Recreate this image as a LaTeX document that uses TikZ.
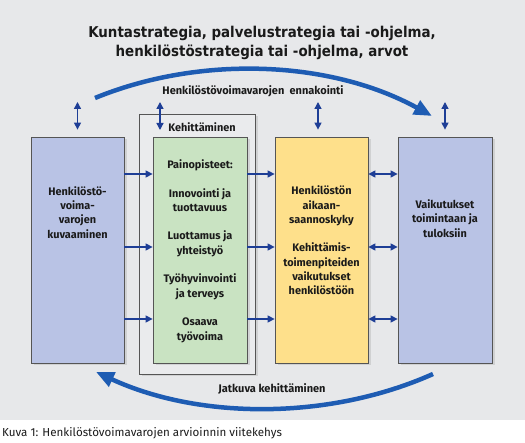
\documentclass[tikz,border=0pt]{standalone}
\usepackage{fontspec}
\setmainfont{Fira Sans}
\newfontfamily\titlefont[FakeStretch=0.9]{DejaVu Sans}
\usetikzlibrary{arrows.meta,shadows,calc}
\definecolor{bg}{HTML}{E7E8EA}
\definecolor{framebg}{HTML}{EAEBED}
\definecolor{blueb}{HTML}{B9C3E5}
\definecolor{greenb}{HTML}{C9E3C2}
\definecolor{yellowb}{HTML}{FEE08B}
\definecolor{navy}{HTML}{1E3E96}
\definecolor{arcblue}{HTML}{1E5CB3}
\definecolor{bordergrey}{HTML}{555555}
\definecolor{txt}{HTML}{1A1A1A}
\tikzset{
  box/.style={draw=bordergrey, line width=0.8pt, inner sep=0pt,
    drop shadow={opacity=0.22, shadow xshift=2.5pt, shadow yshift=-2.5pt}},
  boxtext/.style={align=center, text=txt, inner sep=0pt,
    font=\fontsize{10.9}{14.3}\selectfont\bfseries},
  sarrow/.style={navy, line width=1.4pt, -{Triangle[length=7pt,width=7pt]}},
  darrow/.style={navy, line width=1.4pt, {Triangle[length=7pt,width=7pt]}-{Triangle[length=7pt,width=7pt]}},
  bigarc/.style={arcblue, line width=4.5pt, -{Triangle[length=18pt,width=15pt]}},
  arclabel/.style={text=txt, inner sep=0pt, font=\fontsize{11}{13}\selectfont\bfseries},
}
\begin{document}
\begin{tikzpicture}[x=1pt,y=-1pt]
\useasboundingbox (0,0) rectangle (525,443);
\fill[white] (0,0) rectangle (525,443);
\fill[bg] (0,0) rectangle (525,420);

% title
\node[align=center, text=txt, inner sep=0pt,
  font=\titlefont\fontsize{14.9}{19}\selectfont\bfseries] (title) at (262,42.5)
  {Kuntastrategia, palvelustrategia tai -ohjelma,\\henkilöstöstrategia tai -ohjelma, arvot};

% boxes
\node[box, fill=framebg, minimum width=116pt, minimum height=260pt] (fr) at (197,244) {};
\node[box, fill=blueb, minimum width=93pt, minimum height=226pt] (b1) at (77.5,250) {};
\node[box, fill=greenb, minimum width=94pt, minimum height=226pt] (g) at (200,250) {};
\node[box, fill=yellowb, minimum width=93pt, minimum height=226pt] (y) at (321.5,250) {};
\node[box, fill=blueb, minimum width=94pt, minimum height=226pt] (b4) at (445,250) {};

% texts
\node[boxtext] (t1) at (77.5,212.5) {Henkilöstö-\\voima-\\varojen\\kuvaaminen};
\node[boxtext] (tk) at (202,127.5) {Kehittäminen};
\node[boxtext] (tg) at (200,251) {Painopisteet:\\[14.3pt]Innovointi ja\\tuottavuus\\[14.3pt]Luottamus ja\\yhteistyö\\[14.3pt]Työhyvinvointi\\ja terveys\\[14.3pt]Osaava\\työvoima};
\node[boxtext] (ty) at (321.5,240.5) {Henkilöstön\\aikaan-\\saannoskyky\\[14.3pt]Kehittämis-\\toimenpiteiden\\vaikutukset\\henkilöstöön};
\node[boxtext] (t4) at (445,218.5) {Vaikutukset\\toimintaan ja\\tuloksiin};

% vertical double arrows
\coordinate (v1) at (77.5,102);
\coordinate (v2) at (160,102);
\coordinate (v3) at (318,102);
\coordinate (v4) at (445,102);
\draw[darrow] (v1) -- ($(b1.north)+(0,-7)$);
\draw[darrow] (v2) -- (160,130 -| v2);
\draw[darrow] (v3) -- ($(y.north)+(-3.5,-7)$);
\draw[darrow] (v4) -- ($(b4.north)+(0,-7)$);

% horizontal arrows
\foreach \yy in {174,247,319}{
  \draw[sarrow] (b1.east |- 0,\yy) -- (g.west |- 0,\yy);
  \draw[sarrow] (g.east |- 0,\yy) -- (y.west |- 0,\yy);
  \draw[darrow] (y.east |- 0,\yy) -- (b4.west |- 0,\yy);
}

% big arcs
\coordinate (a1s) at (95,98);
\coordinate (a1e) at (432,116);
\coordinate (a2s) at (433,374);
\coordinate (a2e) at (96,372);
\draw[bigarc] (a1s) .. controls (200,55) and (330,60) .. (a1e);
\draw[bigarc] (a2s) .. controls (330,420) and (200,420) .. (a2e);
\node[arclabel] (l1) at (253,91) {Henkilöstövoimavarojen\ \ ennakointi};
\node[arclabel] (l2) at (272,389) {Jatkuva kehittäminen};

% caption
\node[anchor=west, text=txt, inner sep=0pt, font=\fontsize{11.6}{13}\selectfont] (cap) at (2,433)
  {Kuva 1: Henkilöstövoimavarojen arvioinnin viitekehys};
\end{tikzpicture}
\end{document}
